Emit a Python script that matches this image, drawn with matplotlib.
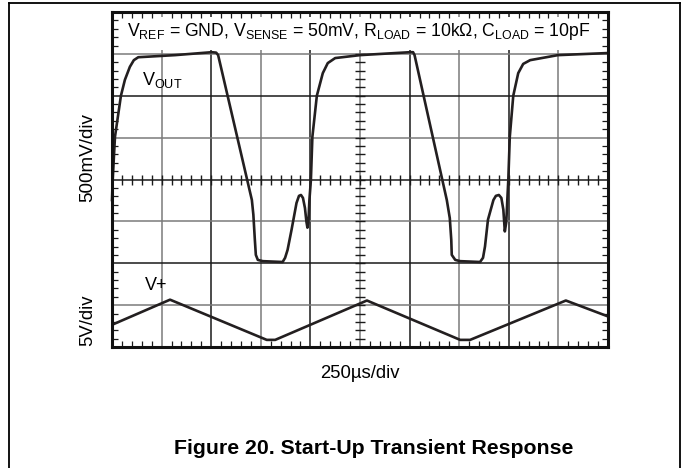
import numpy as np
import matplotlib
matplotlib.use('Agg')
import matplotlib.pyplot as plt
from matplotlib.ticker import MultipleLocator
from matplotlib.patches import Rectangle
from matplotlib.lines import Line2D

plt.rcParams['font.family'] = ['Liberation Sans', 'DejaVu Sans']
plt.rcParams['mathtext.fontset'] = 'custom'
plt.rcParams['mathtext.rm'] = 'Liberation Sans'
plt.rcParams['mathtext.it'] = 'Liberation Sans:italic'

# scope trace (x in divisions, y in divisions from bottom)
vout_t = [0.0, 0.014, 0.06, 0.18, 0.26, 0.36, 0.44, 0.53, 1.27, 2.01, 2.10, 2.14,
          2.82, 2.85, 2.88, 2.90, 2.94, 3.04, 3.44, 3.49, 3.54, 3.62, 3.72, 3.77,
          3.81, 3.85, 3.89, 3.92, 3.94, 3.96, 3.98, 4.01, 4.04, 4.13, 4.25, 4.35,
          4.50, 5.0, 6.01, 6.07, 6.10, 6.75, 6.81, 6.84, 6.85, 6.92, 7.02, 7.42,
          7.48, 7.52, 7.58, 7.69, 7.74, 7.80, 7.85, 7.89, 7.92, 7.95, 7.97, 7.99,
          8.02, 8.09, 8.19, 8.29, 8.43, 8.99, 10.0]
vout_v = [3.51, 3.99, 5.02, 6.00, 6.38, 6.69, 6.85, 6.92, 6.97, 7.04, 7.03, 6.97,
          3.51, 3.16, 2.56, 2.20, 2.08, 2.05, 2.03, 2.13, 2.32, 2.80, 3.44, 3.61,
          3.63, 3.56, 3.32, 2.99, 2.85, 2.99, 3.51, 3.99, 5.02, 6.00, 6.54, 6.78,
          6.90, 6.97, 7.04, 7.04, 6.97, 3.51, 3.08, 2.56, 2.20, 2.08, 2.05, 2.03,
          2.13, 2.40, 3.04, 3.51, 3.61, 3.63, 3.56, 3.28, 2.76, 2.99, 3.51, 3.99,
          5.02, 6.00, 6.54, 6.76, 6.85, 6.97, 7.02]

vplus_t = [0.0, 1.17, 3.12, 3.29, 5.14, 7.02, 7.22, 9.15, 10.0]
vplus_v = [0.53, 1.13, 0.17, 0.17, 1.11, 0.17, 0.17, 1.11, 0.73]

fig = plt.figure(figsize=(6.83, 4.68), dpi=100)
ax = fig.add_axes([112 / 683, 1 - 347 / 468, 496 / 683, 335 / 468])
ax.set_xlim(0, 10)
ax.set_ylim(0, 8)

# graticule
for i in range(1, 10):
    ax.axvline(i, color='#1a1a1a' if i % 2 == 0 else '#7a7a7a', lw=1.1, zorder=1)
for j in range(1, 8):
    ax.axhline(j, color='#1a1a1a' if j % 2 == 0 else '#7a7a7a', lw=1.1, zorder=1)

xs = np.arange(0.2, 10, 0.2)
ax.plot(xs, np.full(len(xs), 4.0), ls='none', marker='|', ms=7, mew=1.0, color='#1a1a1a', zorder=1.2)
ys = np.arange(0.2, 8, 0.2)
ax.plot(np.full(len(ys), 5.0), ys, ls='none', marker='_', ms=7, mew=1.0, color='#1a1a1a', zorder=1.2)

ax.add_patch(Rectangle((0.12, 7.09), 9.8, 0.79, facecolor='white', edgecolor='none', zorder=2))

ax.xaxis.set_minor_locator(MultipleLocator(0.2))
ax.yaxis.set_minor_locator(MultipleLocator(0.2))
ax.set_xticks(range(11))
ax.set_yticks(range(9))
ax.tick_params(which='both', direction='in', top=True, right=True,
               labelbottom=False, labelleft=False)
ax.tick_params(which='minor', length=4, width=0.9, color='#1a1a1a')
ax.tick_params(which='major', length=0)
ax.set_axisbelow(False)
for s in ax.spines.values():
    s.set_linewidth(2.2)
    s.set_color('#111111')
    s.set_zorder(5)

ax.plot(vout_t, vout_v, color='#231f20', lw=1.9, solid_joinstyle='round', zorder=4, clip_on=False)
ax.plot(vplus_t, vplus_v, color='#231f20', lw=1.9, solid_joinstyle='round', zorder=4)

def px(x, y):
    return x / 683, 1 - y / 468

fig.text(*px(359, 32),
         r'V$_{\mathregular{REF}}$ = GND, V$_{\mathregular{SENSE}}$ = 50mV, '
         r'R$_{\mathregular{LOAD}}$ = 10kΩ, C$_{\mathregular{LOAD}}$ = 10pF',
         ha='center', va='center', fontsize=12.7)
fig.text(*px(162, 80), r'V$_{\mathregular{OUT}}$', ha='center', va='center', fontsize=13)
fig.text(*px(156, 286), 'V+', ha='center', va='center', fontsize=13)

fig.text(*px(88, 158), '500mV/div', rotation=90, ha='center', va='center', fontsize=13.6)
fig.text(*px(88, 320), '5V/div', rotation=90, ha='center', va='center', fontsize=13.3)
fig.text(*px(360, 373), '250µs/div', ha='center', va='center', fontsize=13.3)
fig.text(*px(374, 448), 'Figure 20. Start-Up Transient Response', ha='center', va='center',
         fontsize=15.3, fontweight='bold')

# page frame
fig.add_artist(Line2D([9 / 683, 680 / 683], [1 - 3.3 / 468] * 2, color='black', lw=1.3))
fig.add_artist(Line2D([9 / 683] * 2, [0, 1 - 3.3 / 468], color='black', lw=1.3))
fig.add_artist(Line2D([680 / 683] * 2, [0, 1 - 3.3 / 468], color='black', lw=1.3))

fig.savefig('out.png', dpi=100)
